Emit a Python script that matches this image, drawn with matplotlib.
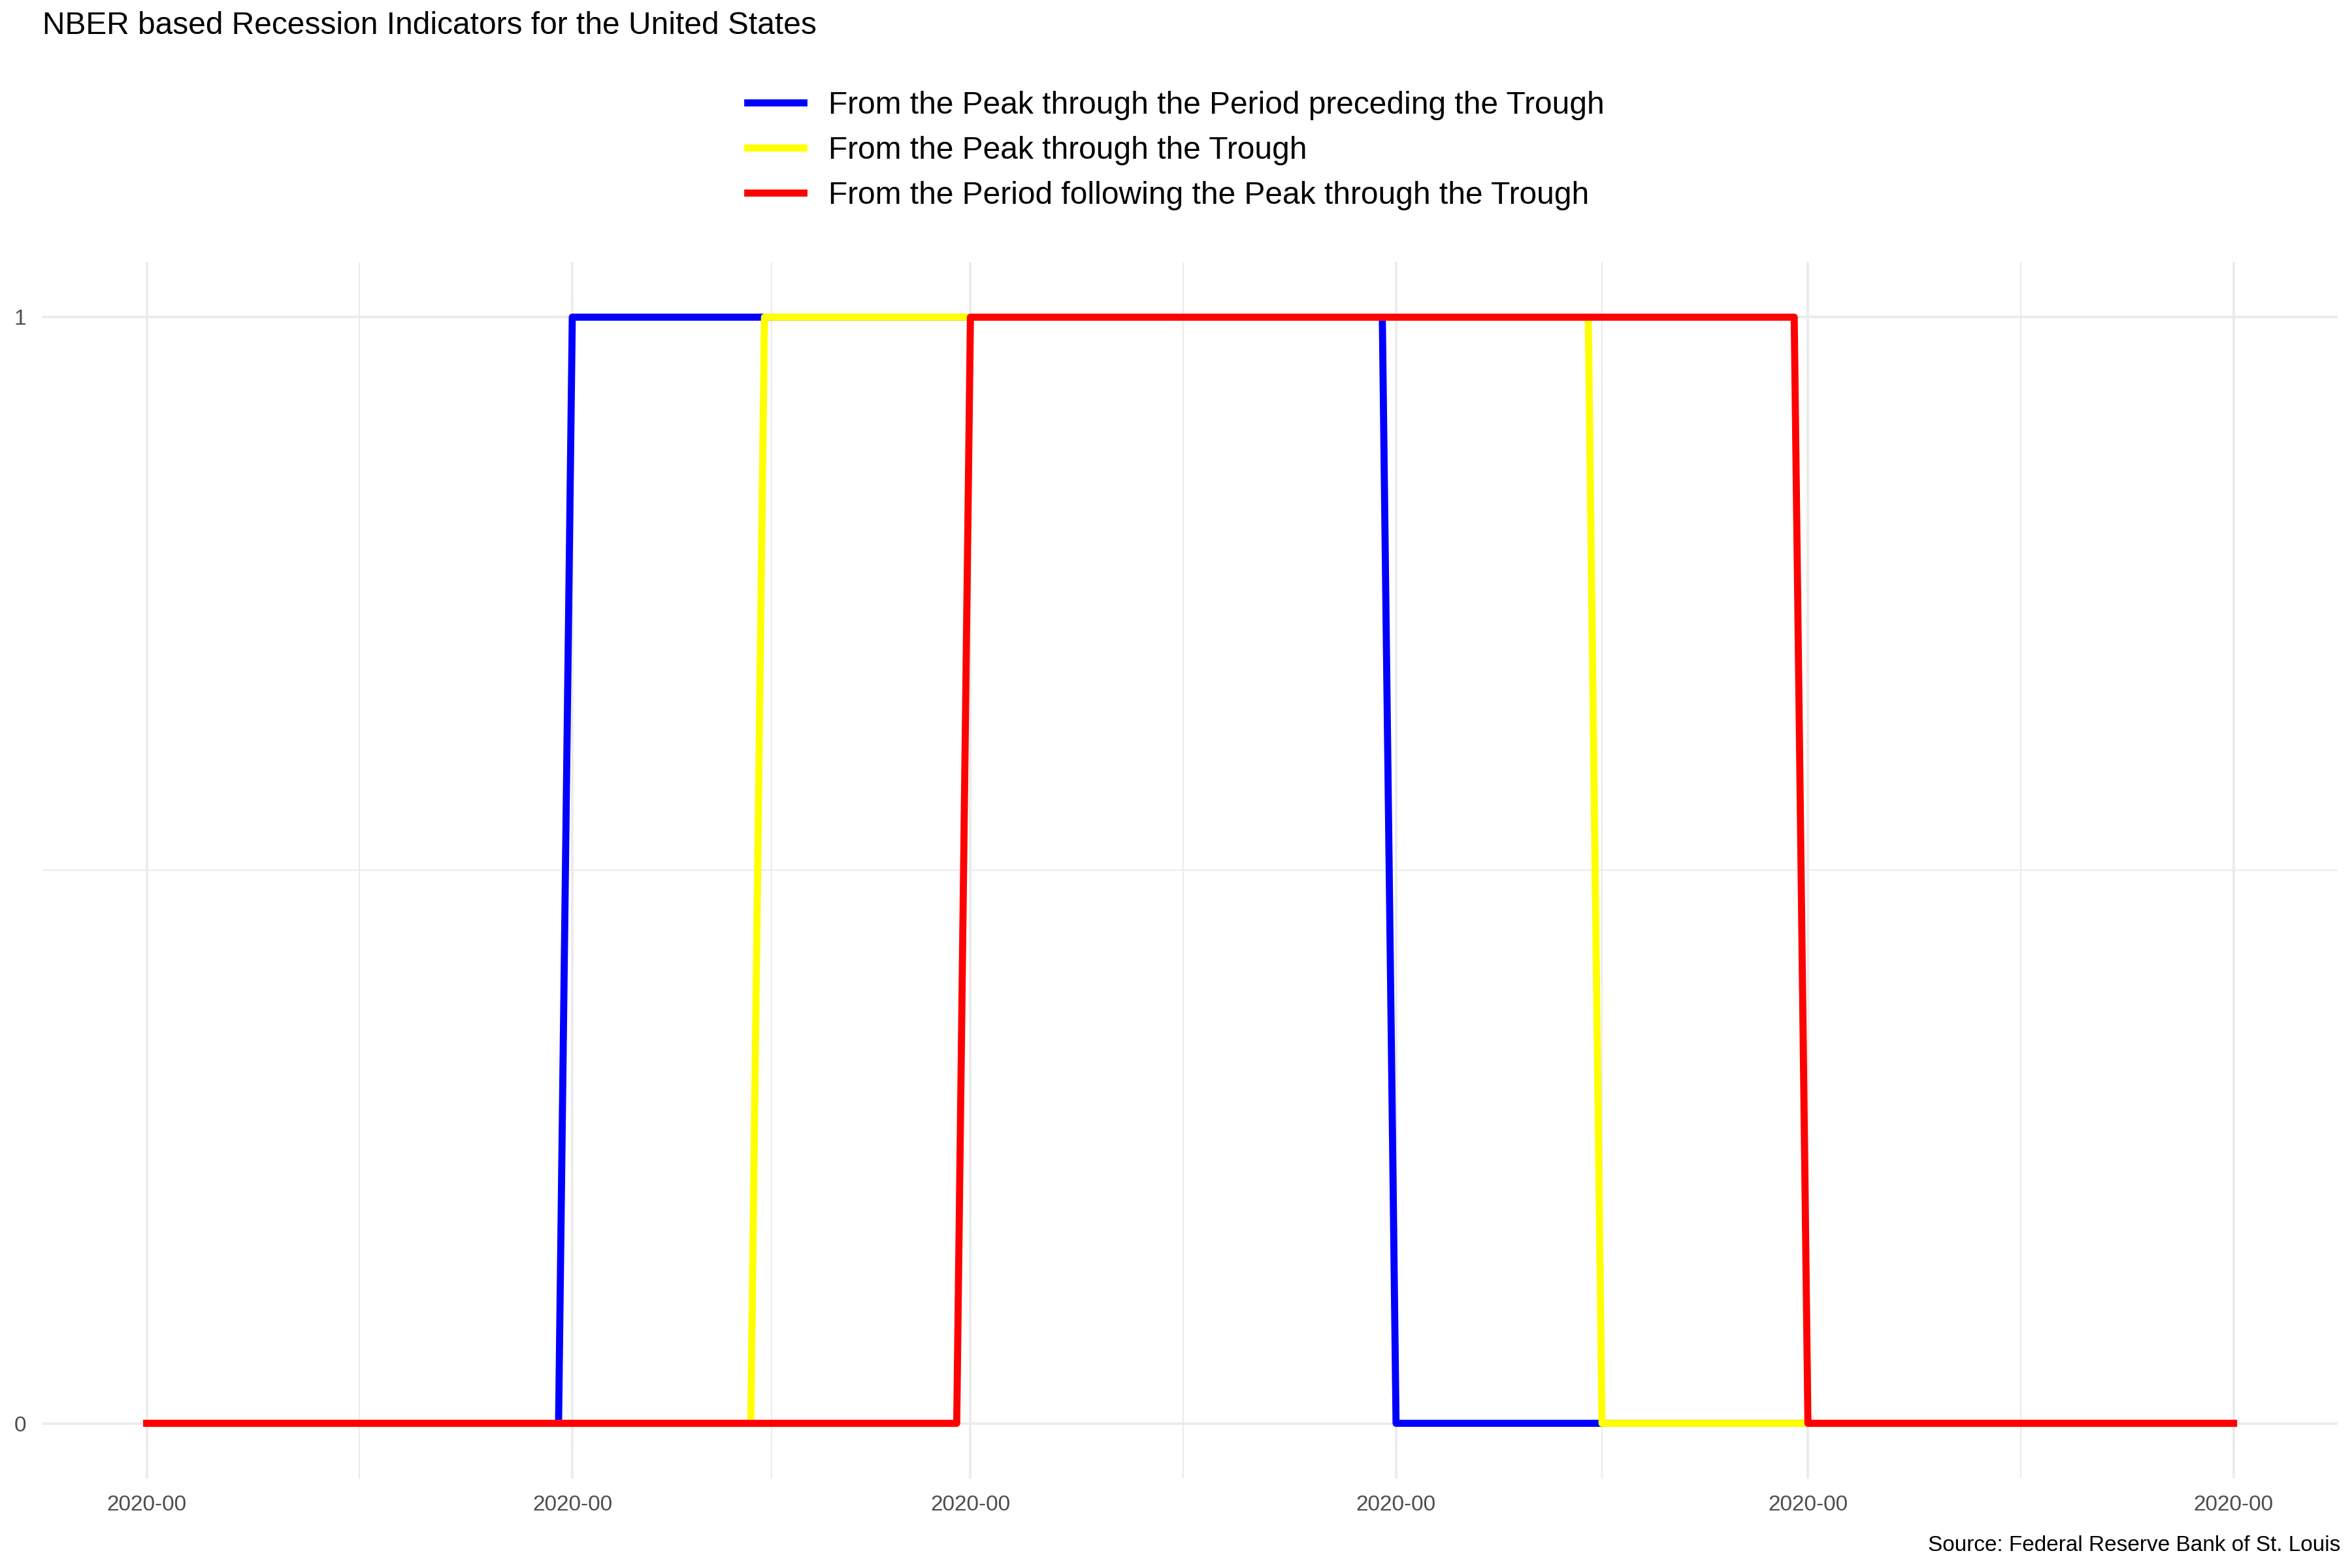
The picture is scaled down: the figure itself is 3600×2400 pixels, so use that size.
import numpy as np
import pandas as pd
import matplotlib
matplotlib.use('Agg')
import matplotlib.pyplot as plt
import matplotlib.dates as mdates

# Daily indicator values, Jan 1 - Jun 1 2020
dates = pd.date_range('2020-01-01', '2020-06-01', freq='D')
blue_on = ('2020-02-01', '2020-03-31')
yellow_on = ('2020-02-15', '2020-04-15')
red_on = ('2020-03-01', '2020-04-30')

def _indicator(span):
    return ((dates >= span[0]) & (dates <= span[1])).astype(int)

series = [
    ('From the Peak through the Period preceding the Trough', _indicator(blue_on), '#0000ff'),
    ('From the Peak through the Trough', _indicator(yellow_on), '#ffff00'),
    ('From the Period following the Peak through the Trough', _indicator(red_on), '#ff0000'),
]

major = pd.to_datetime(['2020-01-01', '2020-02-01', '2020-03-01', '2020-04-01', '2020-05-01', '2020-06-01'])
minor = major[:-1] + (major[1:] - major[:-1]) / 2

plt.rcParams['font.family'] = ['Liberation Sans', 'DejaVu Sans']
fig = plt.figure(figsize=(12, 8), dpi=300)
ax = fig.add_axes([0.018, 0.057, 0.976, 0.776])

for name, vals, col in series:
    ax.plot(dates, vals, color=col, lw=2.6, label=name)

ax.set_xlim(dates[0] - pd.Timedelta(days=7.6), dates[-1] + pd.Timedelta(days=7.6))
ax.set_ylim(-0.05, 1.05)
ax.set_xticks(major)
ax.set_xticklabels(['2020-00'] * len(major))
ax.set_xticks(minor, minor=True)
ax.set_yticks([0, 1])
ax.set_yticks([0.5], minor=True)
ax.grid(True, which='major', color='#ebebeb', lw=0.9)
ax.grid(True, which='minor', color='#ebebeb', lw=0.5)
ax.set_axisbelow(True)
for s in ax.spines.values():
    s.set_visible(False)
ax.tick_params(which='both', length=0, labelsize=8, labelcolor='#4d4d4d', pad=6)

fig.text(0.018, 0.993, 'NBER based Recession Indicators for the United States', fontsize=11.5, va='top')
fig.legend(loc='upper center', bbox_to_anchor=(0.5, 0.96), frameon=False, fontsize=11.5,
           handlelength=1.8, labelspacing=0.5)
fig.text(0.995, 0.008, 'Source: Federal Reserve Bank of St. Louis', fontsize=8, ha='right', va='bottom')

fig.savefig('out.png', dpi=300)
